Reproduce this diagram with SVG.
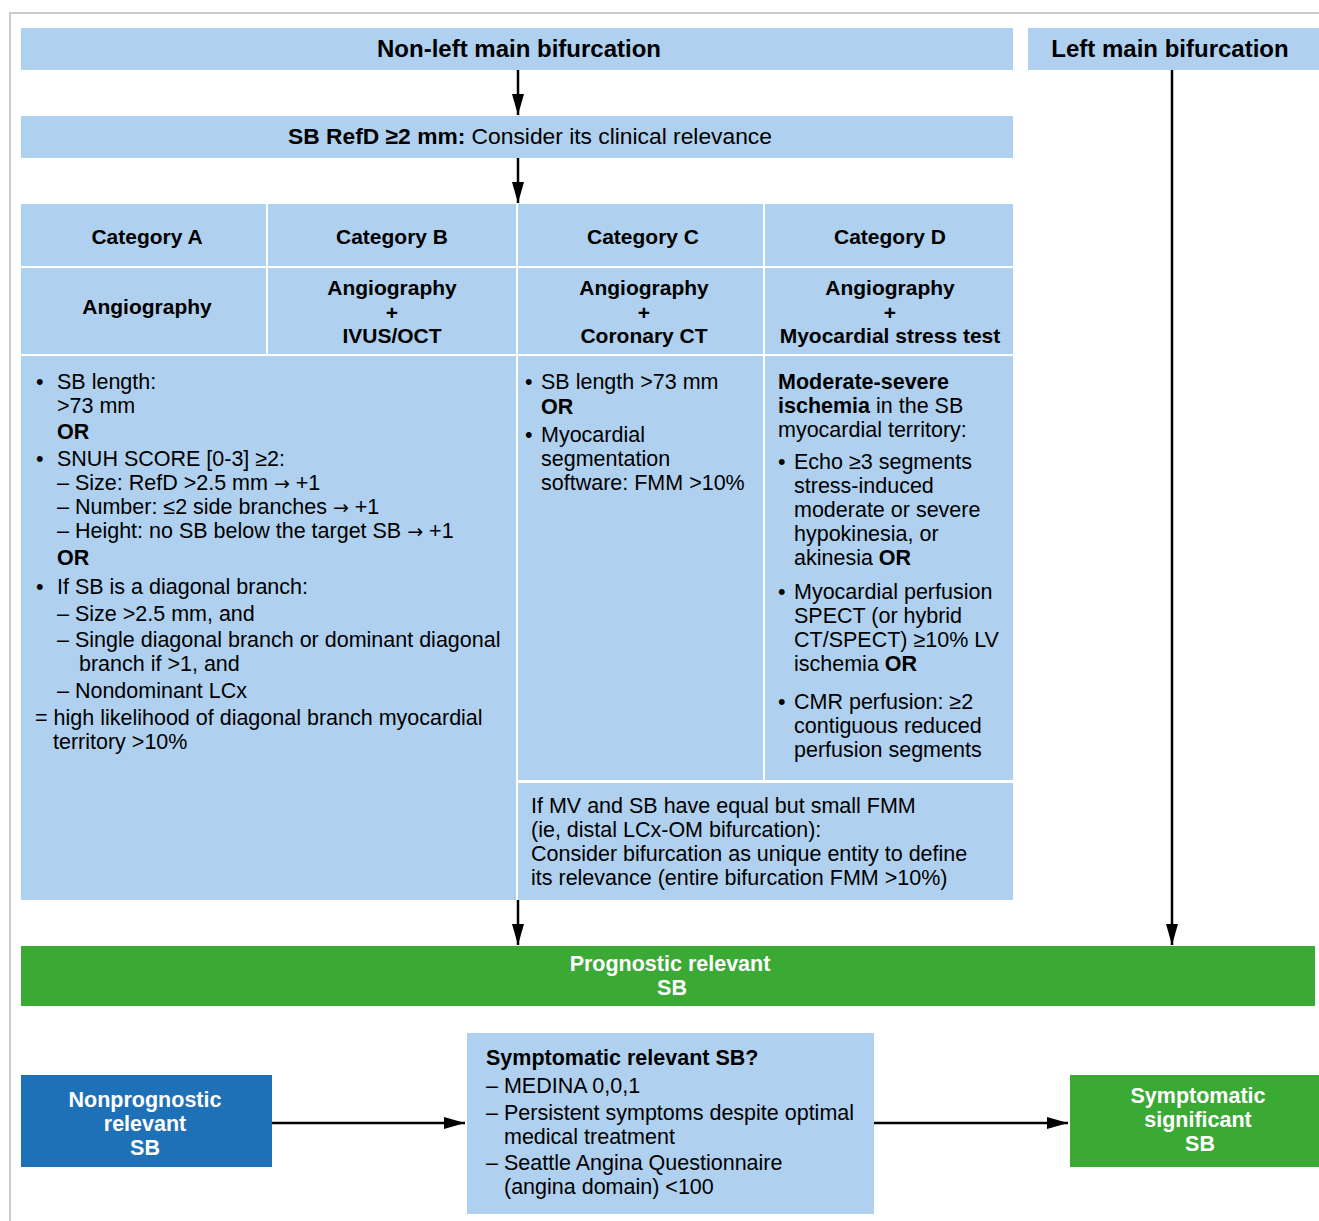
<svg xmlns="http://www.w3.org/2000/svg" width="1319" height="1221" viewBox="0 0 1319 1221">
<defs>
<marker id="ah" markerWidth="21" markerHeight="12" refX="21" refY="6" orient="auto" markerUnits="userSpaceOnUse">
<path d="M0,0 L21,6 L0,12 Z" fill="#000"/>
</marker>
<style>
.lb{fill:#afd0ee}
.db{fill:#1e70b7}
.gr{fill:#3aaa35}
text{font-family:"Liberation Sans",Arial,sans-serif;fill:#000}
.h{font-size:24px;font-weight:bold}
.b{font-size:21px;font-weight:bold}
.t{font-size:21.5px}
.w{font-size:21.5px;font-weight:bold;fill:#fff}
.c{text-anchor:middle}
.bo{font-weight:bold}
.ar{font-family:"DejaVu Sans",sans-serif;font-size:19px}
.con{stroke:#000;stroke-width:2.5;fill:none}
</style>
</defs>
<rect width="1319" height="1221" fill="#fff"/>
<path d="M10,1221 V13 H1319" fill="none" stroke="#cccccc" stroke-width="2"/>

<g id="n-nonleft"><rect class="lb" x="21" y="28" width="992" height="42"/><text class="h c" x="519" y="57">Non-left main bifurcation</text></g>
<g id="n-leftmain"><rect class="lb" x="1028" y="28" width="291" height="42"/><text class="h c" x="1170" y="57">Left main bifurcation</text></g>
<g id="n-refd"><rect class="lb" x="21" y="116" width="992" height="42"/><text class="t c" x="530" y="144" style="font-size:22.8px"><tspan class="bo">SB RefD ≥2 mm:</tspan> Consider its clinical relevance</text></g>

<g id="n-catA"><rect class="lb" x="21" y="204" width="245" height="62"/><text class="b c" x="147" y="244">Category A</text></g>
<g id="n-catB"><rect class="lb" x="268" y="204" width="248" height="62"/><text class="b c" x="392" y="244">Category B</text></g>
<g id="n-catC"><rect class="lb" x="518" y="204" width="245" height="62"/><text class="b c" x="643" y="244">Category C</text></g>
<g id="n-catD"><rect class="lb" x="765" y="204" width="248" height="62"/><text class="b c" x="890" y="244">Category D</text></g>

<g id="n-methA"><rect class="lb" x="21" y="268" width="245" height="86"/><text class="b c" x="147" y="314">Angiography</text></g>
<g id="n-methB"><rect class="lb" x="268" y="268" width="248" height="86"/><text class="b c" x="392" y="295">Angiography</text><text class="b c" x="392" y="320">+</text><text class="b c" x="392" y="343">IVUS/OCT</text></g>
<g id="n-methC"><rect class="lb" x="518" y="268" width="245" height="86"/><text class="b c" x="644" y="295">Angiography</text><text class="b c" x="644" y="320">+</text><text class="b c" x="644" y="343">Coronary CT</text></g>
<g id="n-methD"><rect class="lb" x="765" y="268" width="248" height="86"/><text class="b c" x="890" y="295">Angiography</text><text class="b c" x="890" y="320">+</text><text class="b c" x="890" y="343">Myocardial stress test</text></g>

<g id="n-bodyAB"><rect class="lb" x="21" y="356" width="495" height="544"/>
<text class="t" x="36" y="389">•</text><text class="t" x="57" y="389">SB length:</text>
<text class="t" x="57" y="413">&gt;73 mm</text>
<text class="t bo" x="57" y="439">OR</text>
<text class="t" x="36" y="466">•</text><text class="t" x="57" y="466">SNUH SCORE [0-3] ≥2:</text>
<text class="t" x="57" y="490">– Size: RefD &gt;2.5 mm <tspan class="ar">→</tspan> +1</text>
<text class="t" x="57" y="514">– Number: ≤2 side branches <tspan class="ar">→</tspan> +1</text>
<text class="t" x="57" y="538">– Height: no SB below the target SB <tspan class="ar">→</tspan> +1</text>
<text class="t bo" x="57" y="565">OR</text>
<text class="t" x="36" y="594">•</text><text class="t" x="57" y="594">If SB is a diagonal branch:</text>
<text class="t" x="57" y="621">– Size &gt;2.5 mm, and</text>
<text class="t" x="57" y="647">– Single diagonal branch or dominant diagonal</text>
<text class="t" x="79" y="671">branch if &gt;1, and</text>
<text class="t" x="57" y="698">– Nondominant LCx</text>
<text class="t" x="35" y="725">= high likelihood of diagonal branch myocardial</text>
<text class="t" x="53" y="749">territory &gt;10%</text>
</g>

<g id="n-bodyC"><rect class="lb" x="518" y="356" width="245" height="424"/>
<text class="t" x="525" y="389">•</text><text class="t" x="541" y="389">SB length &gt;73 mm</text>
<text class="t bo" x="541" y="414">OR</text>
<text class="t" x="525" y="442">•</text><text class="t" x="541" y="442">Myocardial</text>
<text class="t" x="541" y="466">segmentation</text>
<text class="t" x="541" y="490">software: FMM &gt;10%</text>
</g>

<g id="n-bodyD"><rect class="lb" x="765" y="356" width="248" height="424"/>
<text class="t bo" x="778" y="389">Moderate-severe</text>
<text class="t" x="778" y="413"><tspan class="bo">ischemia</tspan> in the SB</text>
<text class="t" x="778" y="437">myocardial territory:</text>
<text class="t" x="778" y="469">•</text><text class="t" x="794" y="469">Echo ≥3 segments</text>
<text class="t" x="794" y="493">stress-induced</text>
<text class="t" x="794" y="517">moderate or severe</text>
<text class="t" x="794" y="541">hypokinesia, or</text>
<text class="t" x="794" y="565">akinesia <tspan class="bo">OR</tspan></text>
<text class="t" x="778" y="599">•</text><text class="t" x="794" y="599">Myocardial perfusion</text>
<text class="t" x="794" y="623">SPECT (or hybrid</text>
<text class="t" x="794" y="647">CT/SPECT) ≥10% LV</text>
<text class="t" x="794" y="671">ischemia <tspan class="bo">OR</tspan></text>
<text class="t" x="778" y="709">•</text><text class="t" x="794" y="709">CMR perfusion: ≥2</text>
<text class="t" x="794" y="733">contiguous reduced</text>
<text class="t" x="794" y="757">perfusion segments</text>
</g>

<g id="n-bodyCD"><rect class="lb" x="518" y="783" width="495" height="117"/>
<text class="t" x="531" y="813">If MV and SB have equal but small FMM</text>
<text class="t" x="531" y="837">(ie, distal LCx-OM bifurcation):</text>
<text class="t" x="531" y="861">Consider bifurcation as unique entity to define</text>
<text class="t" x="531" y="885">its relevance (entire bifurcation FMM &gt;10%)</text>
</g>

<g id="n-prognostic"><rect class="gr" x="21" y="946" width="1294" height="60"/>
<text class="w c" x="670" y="971">Prognostic relevant</text><text class="w c" x="672" y="995">SB</text></g>

<g id="n-nonprog"><rect class="db" x="21" y="1075" width="251" height="92"/>
<text class="w c" x="145" y="1107">Nonprognostic</text><text class="w c" x="145" y="1131">relevant</text><text class="w c" x="145" y="1155">SB</text></g>

<g id="n-symrel"><rect class="lb" x="467" y="1033" width="407" height="181"/>
<text class="t bo" x="486" y="1065">Symptomatic relevant SB?</text>
<text class="t" x="486" y="1093">– MEDINA 0,0,1</text>
<text class="t" x="486" y="1120">– Persistent symptoms despite optimal</text>
<text class="t" x="504" y="1144">medical treatment</text>
<text class="t" x="486" y="1170">– Seattle Angina Questionnaire</text>
<text class="t" x="504" y="1194">(angina domain) &lt;100</text>
</g>

<g id="n-symsig"><rect class="gr" x="1070" y="1075" width="249" height="92"/>
<text class="w c" x="1198" y="1103">Symptomatic</text><text class="w c" x="1198" y="1127">significant</text><text class="w c" x="1200" y="1151">SB</text></g>

<g id="connectors">
<line class="con" x1="518" y1="70" x2="518" y2="115" marker-end="url(#ah)"/>
<line class="con" x1="518" y1="158" x2="518" y2="203" marker-end="url(#ah)"/>
<line class="con" x1="518" y1="900" x2="518" y2="945" marker-end="url(#ah)"/>
<line class="con" x1="1172" y1="70" x2="1172" y2="945" marker-end="url(#ah)"/>
<line class="con" x1="272" y1="1123" x2="465" y2="1123" marker-end="url(#ah)"/>
<line class="con" x1="874" y1="1123" x2="1068" y2="1123" marker-end="url(#ah)"/>
</g>
</svg>
